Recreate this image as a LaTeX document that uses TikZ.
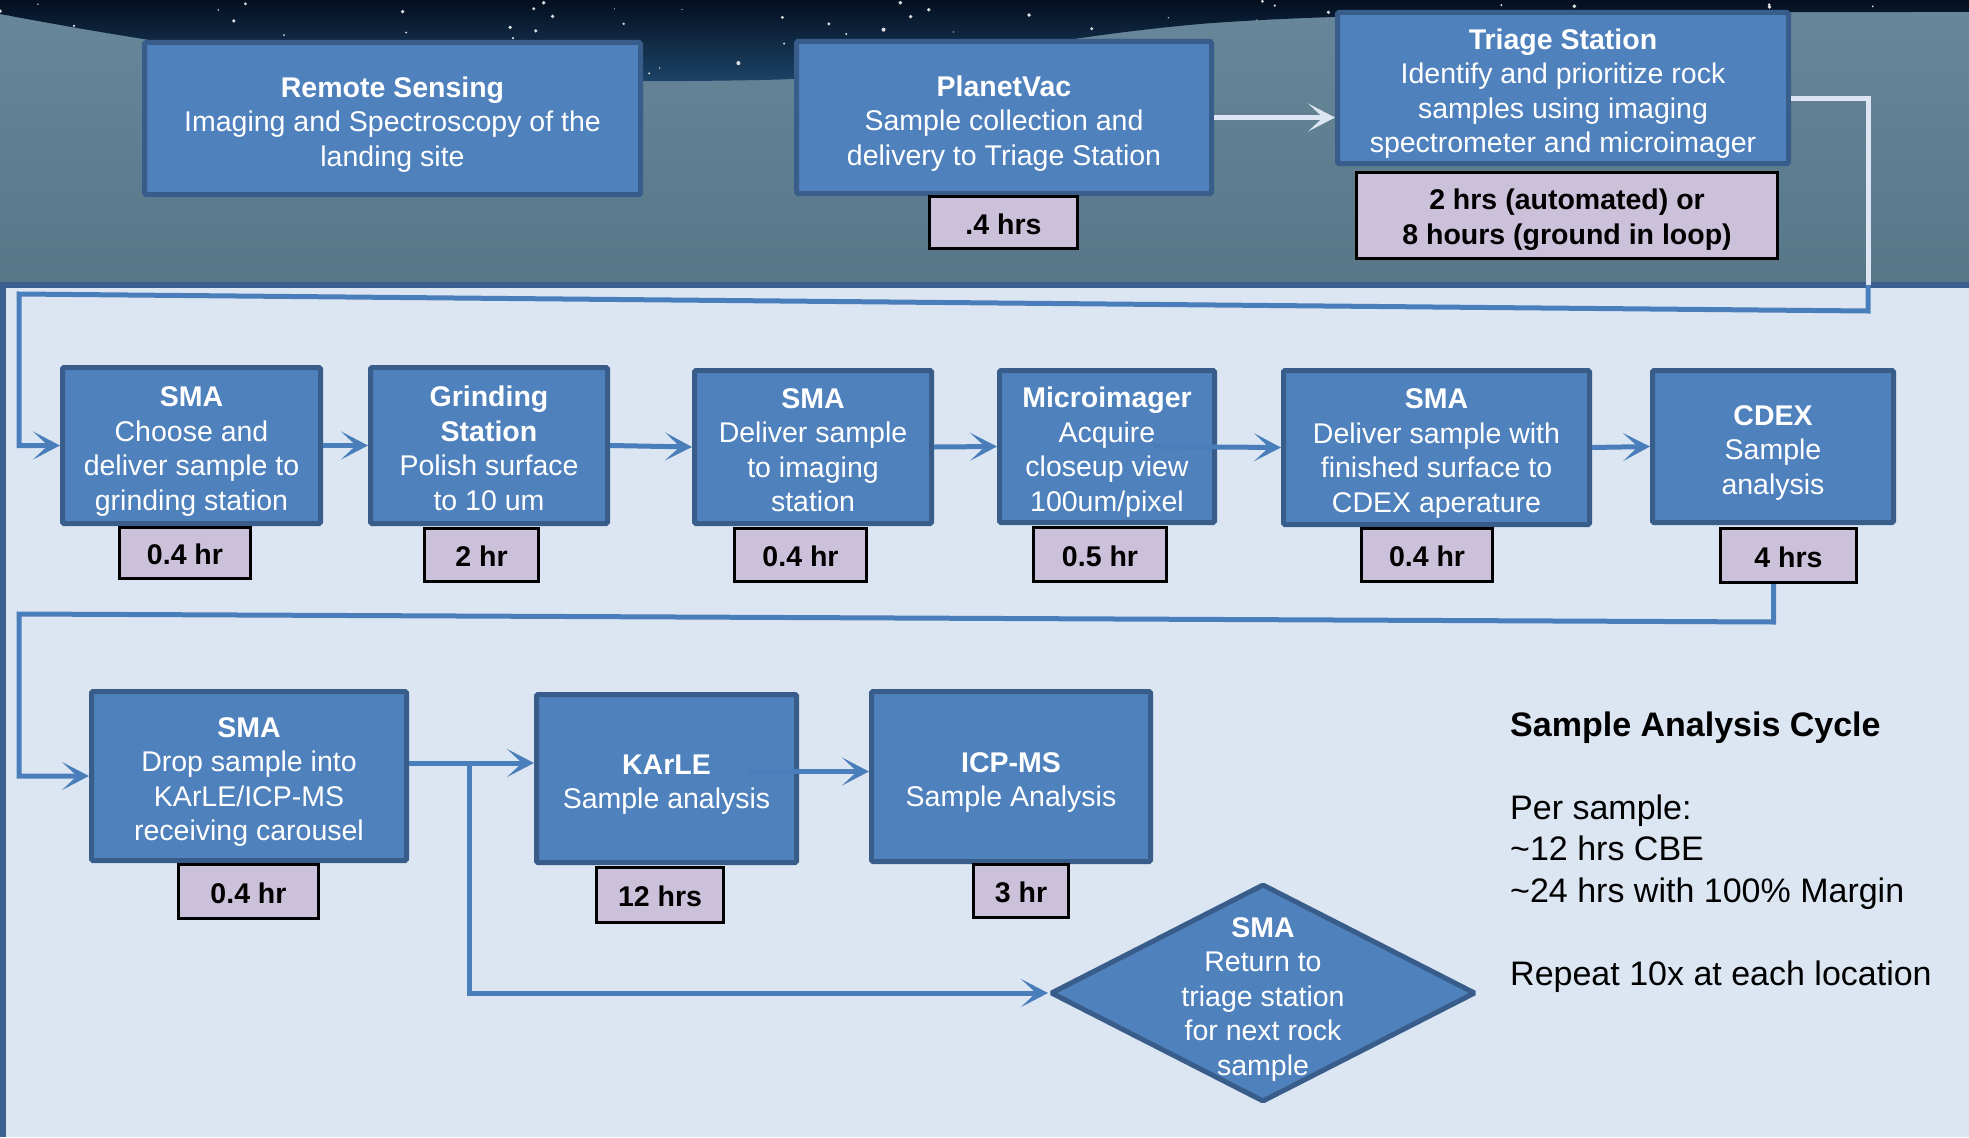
\documentclass[tikz,border=0pt]{standalone}
\usepackage{fontspec}
\setmainfont{Liberation Sans}
\usetikzlibrary{arrows.meta,shapes.geometric,calc}
\definecolor{boxfill}{HTML}{4F81BD}
\definecolor{boxline}{HTML}{385D8A}
\definecolor{hrfill}{HTML}{CCC1DA}
\definecolor{panel}{HTML}{DCE6F2}
\definecolor{panelline}{HTML}{3B5F8F}
\definecolor{conn}{HTML}{4A7EBB}
\definecolor{pale}{HTML}{DCE6F2}
\definecolor{skyA}{HTML}{040F20}
\definecolor{skyB}{HTML}{1D4569}
\definecolor{groundA}{HTML}{68879A}
\definecolor{groundB}{HTML}{577688}
\newcommand{\mybodyfont}{\fontsize{28.5}{34.5}\selectfont}
\newcommand{\myhrfont}{\fontsize{28.5}{34.5}\selectfont\bfseries}
\newcommand{\mynotefont}{\fontsize{34}{41.5}\selectfont}
\newcommand{\Tst}{\rule{0pt}{32pt}}
\newcommand{\Tsh}{\rule{0pt}{29pt}}
\newcommand{\Bst}{\rule[-6pt]{0pt}{6pt}}
\begin{document}
\begin{tikzpicture}[x=1pt,y=-1pt,
  proc/.style={draw=boxline,fill=boxfill,line width=5pt,rounded corners=1.5pt,text=white,align=center,inner sep=0pt,font=\mybodyfont},
  hrs/.style={draw=black,fill=hrfill,line width=3pt,align=center,inner sep=0pt,font=\myhrfont},
  link/.style={draw=conn,line width=5pt,-{Stealth[length=27pt,width=28pt,inset=15pt]}},
  palelink/.style={draw=pale,line width=5pt,-{Stealth[length=27pt,width=28pt,inset=15pt]}},
  note/.style={anchor=base west,inner sep=0pt,font=\mynotefont,text=black}]
\useasboundingbox (0,0) rectangle (1969,1137);
% ground and sky
\shade[top color=groundA,bottom color=groundB] (0,0) rectangle (1969,290);
\shade[top color=skyA,bottom color=skyB] (0,0) -- (1969,0) -- (1969,12)
  .. controls (1600,12) and (1350,12) .. (1200,24)
  .. controls (1000,42) and (900,78) .. (760,80)
  .. controls (550,84) and (350,80) .. (0,14) -- cycle;
\begin{scope}
  \clip (0,0) -- (1969,0) -- (1969,12)
  .. controls (1600,12) and (1350,12) .. (1200,24)
  .. controls (1000,42) and (900,78) .. (760,80)
  .. controls (550,84) and (350,80) .. (0,14) -- cycle;
  \pgfmathsetseed{7}
  \foreach \i in {1,...,120}{
    \pgfmathsetmacro\sx{rnd*1969}
    \pgfmathsetmacro\sy{rnd*85}
    \pgfmathsetmacro\sr{0.6+rnd*1.5}
    \fill[white,opacity=0.85] (\sx,\sy) circle[radius=\sr pt];
  }
\end{scope}
% panel
\fill[panel] (0,284) rectangle (1969,1137);
\draw[panelline,line width=6pt] (3,1137) -- (3,284.5) -- (1969,284.5);

% top row
\node[proc,minimum width=496pt,minimum height=152pt] (rs) at (392.5,118.5) {\Tst\textbf{Remote Sensing}\\Imaging and Spectroscopy of the\\landing site\Bst};
\node[proc,minimum width=415pt,minimum height=152pt] (pv) at (1004,117.5) {\Tst\textbf{PlanetVac}\\Sample collection and\\delivery to Triage Station\Bst};
\node[proc,minimum width=451pt,minimum height=151pt] (ts) at (1563,88) {\Tst\textbf{Triage Station}\\Identify and prioritize rock\\samples using imaging\\spectrometer and microimager\Bst};
\node[hrs,minimum width=148pt,minimum height=52pt] (pvh) at (1003.5,222.5) {\Tsh.4 hrs\Bst};
\node[hrs,minimum width=421pt,minimum height=86pt] (tsh) at (1567,215.5) {\Tsh 2 hrs (automated) or\\8 hours (ground in loop)\Bst};

% row 1
\node[proc,minimum width=258pt,minimum height=156pt] (s1) at (191.5,445.5) {\Tst\textbf{SMA}\\Choose and\\deliver sample to\\grinding station\Bst};
\node[proc,minimum width=237pt,minimum height=156pt] (gr) at (489,445.5) {\Tst\textbf{Grinding}\\\textbf{Station}\\Polish surface\\to 10 um\Bst};
\node[proc,minimum width=237pt,minimum height=153pt] (s2) at (813,447) {\Tst\textbf{SMA}\\Deliver sample\\to imaging\\station\Bst};
\node[proc,minimum width=215pt,minimum height=152pt] (mi) at (1107,446.5) {\Tst\textbf{Microimager}\\Acquire\\closeup view\\100um/pixel\Bst};
\node[proc,minimum width=306pt,minimum height=154pt] (s3) at (1436.5,447.5) {\Tst\textbf{SMA}\\Deliver sample with\\finished surface to\\CDEX aperature\Bst};
\node[proc,minimum width=241pt,minimum height=152pt] (cd) at (1773,446.5) {\Tst\textbf{CDEX}\\Sample\\analysis\Bst};
\node[hrs,minimum width=131pt,minimum height=51pt] (s1h) at (185,553) {\Tsh 0.4 hr\Bst};
\node[hrs,minimum width=114pt,minimum height=53pt] (grh) at (481.5,555) {\Tsh 2 hr\Bst};
\node[hrs,minimum width=132pt,minimum height=53pt] (s2h) at (800.5,555) {\Tsh 0.4 hr\Bst};
\node[hrs,minimum width=133pt,minimum height=54pt] (mih) at (1100,554.5) {\Tsh 0.5 hr\Bst};
\node[hrs,minimum width=131pt,minimum height=53pt] (s3h) at (1427,555) {\Tsh 0.4 hr\Bst};
\node[hrs,minimum width=136pt,minimum height=54pt] (cdh) at (1788.5,555.5) {\Tsh 4 hrs\Bst};

% row 2
\node[proc,minimum width=315pt,minimum height=169pt] (s4) at (249,776) {\Tst\textbf{SMA}\\Drop sample into\\KArLE/ICP-MS\\receiving carousel\Bst};
\node[proc,minimum width=260pt,minimum height=168pt] (ka) at (666.5,778.5) {\Tst\textbf{KArLE}\\Sample analysis\Bst};
\node[proc,minimum width=279pt,minimum height=170pt] (ic) at (1011,776.5) {\Tst\textbf{ICP-MS}\\Sample Analysis\Bst};
\node[hrs,minimum width=140pt,minimum height=54pt] (s4h) at (248.5,891.5) {\Tsh 0.4 hr\Bst};
\node[hrs,minimum width=127pt,minimum height=55pt] (kah) at (660,895) {\Tsh 12 hrs\Bst};
\node[hrs,minimum width=95pt,minimum height=53pt] (ich) at (1021,891) {\Tsh 3 hr\Bst};
\node[proc,diamond,minimum width=425pt,minimum height=218pt,
  label={[text=white,align=center,font=\mybodyfont,inner sep=0pt]center:{\Tst\textbf{SMA}\\Return to\\triage station\\for next rock\\sample\Bst}}] (dm) at (1263,993) {};

% connectors: top
\draw[palelink] (pv.east) -- (ts.west |- pv.east);
\coordinate (t0) at ($(ts.east)+(0,11)$);
\coordinate (t1) at (1868,99);
\coordinate (t2) at (1868,285);
\coordinate (t3) at (1868,311);
\coordinate (t4) at (19,294);
\draw[pale,line width=5pt] (t0) -- (t1) -- (t2);
\draw[link] (t2) -- (t3) -- (t4) -- (t4 |- s1.west) -- (s1.west);

% row 1 arrows
\draw[link] (s1.east) -- (gr.west);
\draw[link] (gr.east) -- (s2.west);
\draw[link] (s2.east) -- (mi.west);
\draw[link] ([xshift=-63pt]mi.east) -- (s3.west);
\draw[link] (s3.east) -- (cd.west);

% loop to row 2
\coordinate (u0) at ($(cdh.south)+(-15,0)$);
\coordinate (u1) at ($(u0)+(0,38)$);
\coordinate (u2) at (19,614);
\draw[link] (u0) -- (u1) -- (u2) -- (u2 |- s4.west) -- (s4.west);

% row 2 arrows
\coordinate (j1) at (469,763);
\draw[link] (s4.east |- j1) -- (ka.west |- j1);
\draw[link] (j1) |- (dm.west);
\coordinate (k1) at ($(ka.east)+(-50,-7)$);
\draw[link] (k1) -- (k1 -| ic.west);

% notes
\node[note] (n1) at (1510,736) {\textbf{Sample Analysis Cycle}};
\node[note] (n2) at (1510,819) {Per sample:};
\node[note] (n3) at (1510,860) {\textasciitilde12 hrs CBE};
\node[note] (n4) at (1510,902) {\textasciitilde24 hrs with 100\% Margin};
\node[note] (n5) at (1510,985) {Repeat 10x at each location};
\end{tikzpicture}
\end{document}
